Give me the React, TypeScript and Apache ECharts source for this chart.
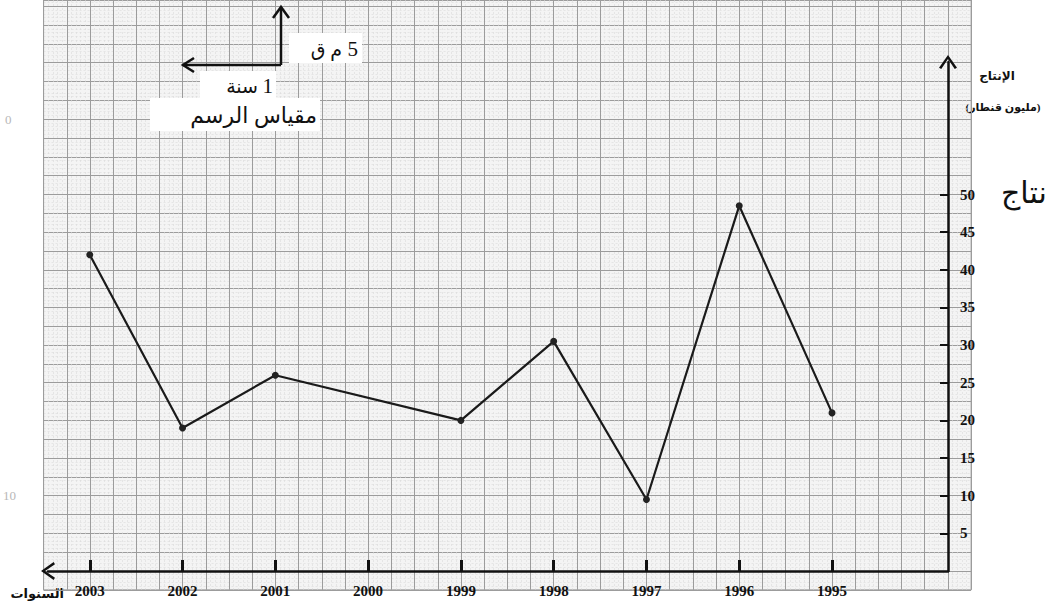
import React, { useEffect, useRef } from 'react';
import * as echarts from 'echarts';

// Data (production, million qintars)
const years = [2003, 2002, 2001, 2000, 1999, 1998, 1997, 1996, 1995];
const production: (number | null)[] = [42, 19, 26, null, 20, 30.5, 9.5, 48.5, 21];
const yTickValues = [5, 10, 15, 20, 25, 30, 35, 40, 45, 50];

const yAxisTitle = 'الإنتاج';
const yAxisUnit = '(مليون قنطار)';
const xAxisTitle = 'السنوات';
const scaleTitle = 'مقياس الرسم';
const scaleXValue = '1';
const scaleXUnit = 'سنة';
const scaleYValue = '5';
const scaleYUnit = 'م ق';

export default function App() {
  const ref = useRef<HTMLDivElement>(null);
  useEffect(() => {
    const chart = echarts.init(ref.current!, null, { renderer: 'svg' });
    const serif = '"Liberation Serif", "DejaVu Serif", "DejaVu Sans", serif';
    const points = years
      .map((y, i) => [y, production[i]])
      .filter((p) => p[1] != null);
    const chevron = 'path://M0,14 L10,0 L20,14 L17.5,15.5 L10,4.5 L2.5,15.5 Z';
    chart.setOption({
      animation: false,
      backgroundColor: '#ffffff',
      grid: [
        {
          left: 43.6, right: 78.9, top: 0, bottom: 16.2, show: true,
          backgroundColor: '#f4f4f4', borderColor: '#a0a0a0', borderWidth: 1,
        },
        { left: 48, right: 102, top: 62, bottom: 35 },
      ],
      xAxis: [
        {
          gridIndex: 0, type: 'value', min: 1993.5, max: 2003.5, interval: 0.25, inverse: true,
          axisLine: { show: false }, axisTick: { show: false }, axisLabel: { show: false },
          splitLine: { show: true, lineStyle: { color: '#9c9c9c', width: 1 } },
          minorTick: { show: false, splitNumber: 5 },
          minorSplitLine: { show: true, lineStyle: { color: '#dadada', width: 0.6, type: [2, 2] } },
        },
        {
          gridIndex: 1, type: 'value', min: 1993.75, max: 2003.45, inverse: true,
          splitLine: { show: false },
          axisLine: {
            show: true, onZero: false,
            lineStyle: { color: '#111', width: 2.5 },
            symbol: [chevron, 'none'], symbolSize: [18, 14],
          },
          axisTick: { show: true, inside: true, length: 11, lineStyle: { color: '#111', width: 3 }, customValues: years },
          axisLabel: {
            show: true, customValues: years, margin: 12,
            formatter: (v: number) => String(v),
            fontFamily: serif, fontWeight: 'bold', fontSize: 15, color: '#111',
          },
        },
      ],
      yAxis: [
        {
          gridIndex: 0, type: 'value', min: -2.5, max: 75.83, interval: 2.5,
          axisLine: { show: false }, axisTick: { show: false }, axisLabel: { show: false },
          splitLine: { show: true, lineStyle: { color: '#9c9c9c', width: 1 } },
          minorTick: { show: false, splitNumber: 5 },
          minorSplitLine: { show: true, lineStyle: { color: '#dadada', width: 0.6, type: [2, 2] } },
        },
        {
          gridIndex: 1, type: 'value', min: 0, max: 67.6, position: 'right',
          splitLine: { show: false },
          axisLine: {
            show: true, onZero: false,
            lineStyle: { color: '#111', width: 2.5 },
            symbol: ['none', chevron], symbolSize: [18, 14],
          },
          axisTick: { show: true, inside: true, length: 8, lineStyle: { color: '#111', width: 2 }, customValues: yTickValues },
          axisLabel: {
            show: true, customValues: yTickValues, margin: 12,
            fontFamily: serif, fontWeight: 'bold', fontSize: 15, color: '#111',
          },
        },
      ],
      series: [
        {
          type: 'line', xAxisIndex: 1, yAxisIndex: 1, data: points,
          symbol: 'circle', symbolSize: 7,
          lineStyle: { color: '#1a1a1a', width: 2.2 },
          itemStyle: { color: '#222' },
          z: 5,
        },
      ],
      graphic: [
        // faint margin marks
        { type: 'text', left: 5, top: 113, style: { text: '0', fontSize: 13, fill: '#b8b8b8', fontFamily: serif } },
        { type: 'text', left: 3, top: 489, style: { text: '10', fontSize: 13, fill: '#b8b8b8', fontFamily: serif } },
        // drawing scale
        { type: 'line', shape: { x1: 281, y1: 65, x2: 281, y2: 8 }, style: { stroke: '#111', lineWidth: 2.5 }, z: 10 },
        { type: 'polyline', shape: { points: [[273, 18], [281, 7], [289, 18]] }, style: { stroke: '#111', lineWidth: 2.5, fill: null }, z: 10 },
        { type: 'line', shape: { x1: 281, y1: 65, x2: 183, y2: 65 }, style: { stroke: '#111', lineWidth: 2.5 }, z: 10 },
        { type: 'polyline', shape: { points: [[194, 58], [183, 65], [194, 72]] }, style: { stroke: '#111', lineWidth: 2.5, fill: null }, z: 10 },
        { type: 'rect', shape: { x: 289, y: 33, width: 73, height: 30 }, style: { fill: '#fff' }, z: 10 },
        { type: 'text', x: 358, y: 49, style: { text: scaleYValue, fontSize: 21, fontFamily: serif, fill: '#111', align: 'right', verticalAlign: 'middle' }, z: 11 },
        { type: 'text', x: 342, y: 49, style: { text: scaleYUnit, fontSize: 19, fontFamily: serif, fill: '#111', align: 'right', verticalAlign: 'middle' }, z: 11 },
        { type: 'rect', shape: { x: 200, y: 71, width: 76, height: 27 }, style: { fill: '#fff' }, z: 10 },
        { type: 'text', x: 273, y: 86, style: { text: scaleXValue, fontSize: 21, fontFamily: serif, fill: '#111', align: 'right', verticalAlign: 'middle' }, z: 11 },
        { type: 'text', x: 258, y: 86, style: { text: scaleXUnit, fontSize: 19, fontFamily: serif, fill: '#111', align: 'right', verticalAlign: 'middle' }, z: 11 },
        { type: 'rect', shape: { x: 150, y: 98, width: 170, height: 33 }, style: { fill: '#fff' }, z: 10 },
        { type: 'text', x: 317, y: 115, style: { text: scaleTitle, fontSize: 22, fontFamily: serif, fill: '#111', align: 'right', verticalAlign: 'middle' }, z: 11 },
        // axis titles
        { type: 'text', x: 997, y: 76, style: { text: yAxisTitle, fontSize: 12, fontWeight: 'bold', fontFamily: serif, fill: '#111', align: 'center', verticalAlign: 'middle' } },
        { type: 'text', x: 1003, y: 107, style: { text: yAxisUnit, fontSize: 11, fontWeight: 'bold', fontFamily: serif, fill: '#111', align: 'center', verticalAlign: 'middle' } },
        { type: 'text', x: 1001, y: 192, style: { text: 'نتاج', fontSize: 30, fontFamily: serif, fill: '#111', align: 'left', verticalAlign: 'middle' } },
        { type: 'text', x: 64, y: 593, style: { text: xAxisTitle, fontSize: 13, fontWeight: 'bold', fontFamily: serif, fill: '#111', align: 'right', verticalAlign: 'middle' } },
      ],
    });
    return () => chart.dispose();
  }, []);
  return <div ref={ref} style={{ position: 'fixed', left: 0, top: 0, width: 1050, height: 606 }} />;
}
